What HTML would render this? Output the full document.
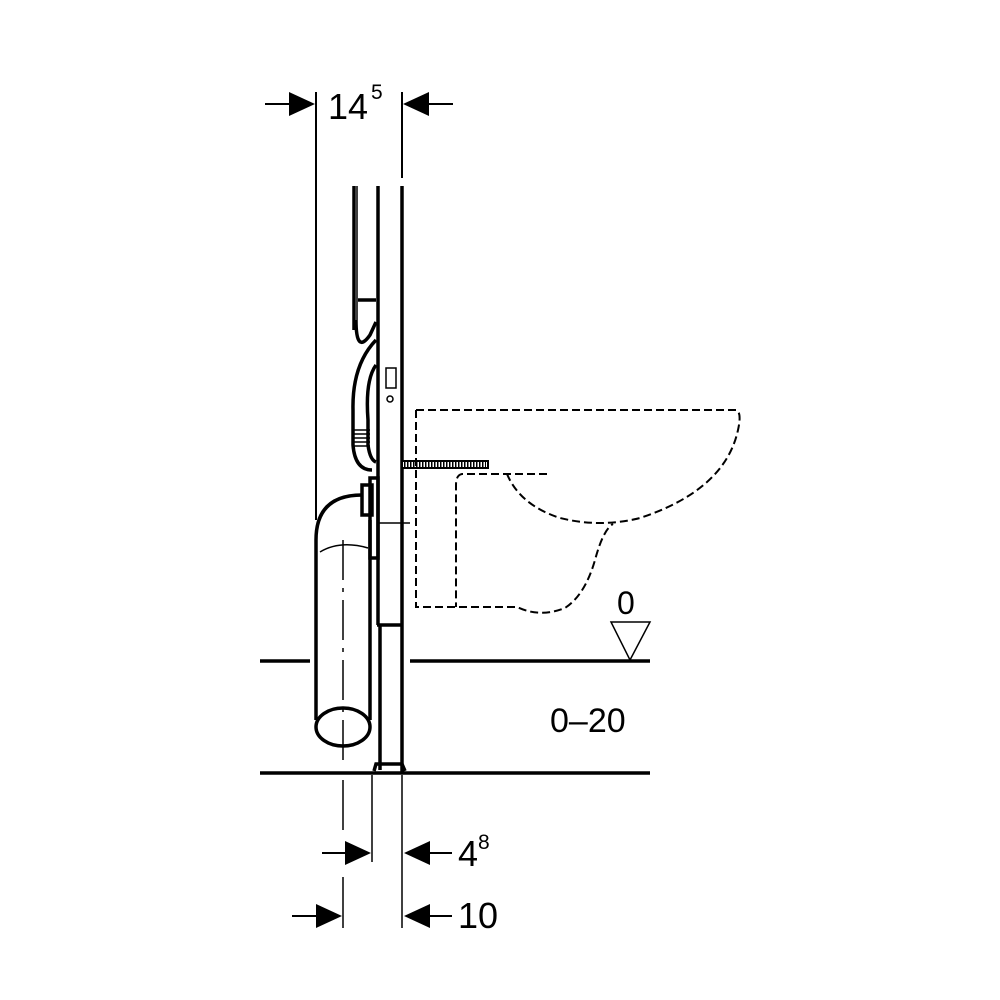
<!DOCTYPE html>
<html><head><style>body{margin:0;background:#fff}svg{display:block}</style></head><body>
<svg width="1000" height="1000" viewBox="0 0 1000 1000" xmlns="http://www.w3.org/2000/svg" font-family="Liberation Sans, sans-serif">
<g stroke="#000" fill="none" stroke-width="2">
<line x1="316" y1="92" x2="316" y2="520"/>
<line x1="402" y1="92" x2="402" y2="178"/>
<line x1="265" y1="104" x2="290" y2="104"/>
<line x1="428" y1="104" x2="453" y2="104"/>
</g>
<polygon points="315,104 289,92 289,116" fill="#000"/>
<polygon points="403,104 429,92 429,116" fill="#000"/>
<text x="328" y="119" font-size="36">14</text>
<text x="371" y="99" font-size="21">5</text>

<g stroke="#000" fill="none" stroke-width="3.5">
<line x1="378" y1="186" x2="378" y2="625"/>
<line x1="402" y1="186" x2="402" y2="772"/>
<line x1="377" y1="625" x2="402" y2="625"/>
<line x1="380" y1="625" x2="380" y2="770"/>
<line x1="354" y1="186" x2="354" y2="330"/>
<path d="M358 300 L376 300"/>
<path d="M356 320 Q356 355 370 335 L376 322"/>
<path d="M376 340 Q352 365 353 410 L353 445 Q355 470 372 470"/>
<path d="M376 365 Q365 380 368 420 L368 445 Q370 460 376 462"/>
<rect x="370" y="478" width="8" height="80"/>
<rect x="362" y="485" width="10" height="30"/>
<path d="M316 720 L316 540 Q316 495 362 495"/>
<line x1="370" y1="520" x2="370" y2="720"/>
<ellipse cx="343" cy="727" rx="27" ry="19"/>
<line x1="260" y1="661" x2="310" y2="661"/>
<line x1="410" y1="661" x2="650" y2="661"/>
<line x1="260" y1="773" x2="650" y2="773"/>
<path d="M374 771 L376 764 L402 764 L405 771"/>
</g>
<g stroke="#000" stroke-width="1.5" fill="none">
<line x1="357" y1="186" x2="357" y2="320"/>
<path d="M354 434h16M354 438h16M354 442h16M354 446h16M354 430h16"/>
<rect x="386" y="368" width="10" height="20"/>
<circle cx="390" cy="399" r="3"/>
<line x1="378" y1="523" x2="410" y2="523"/>
<path d="M320 552 Q340 540 368 548"/>
<line x1="343" y1="540" x2="343" y2="760" stroke-dasharray="40,8,4,8"/>
<line x1="372" y1="775" x2="372" y2="862"/>
<line x1="402" y1="775" x2="402" y2="928"/>
<line x1="343" y1="780" x2="343" y2="830"/>
<line x1="343" y1="877" x2="343" y2="928"/>
</g>
<rect x="402" y="461" width="86" height="7" fill="#fff" stroke="#000" stroke-width="2"/>
<line x1="404" y1="464.5" x2="486" y2="464.5" stroke="#000" stroke-width="5" stroke-dasharray="1.5,1.5"/>
<g stroke="#000" stroke-width="2" fill="none" stroke-dasharray="8,4">
<path d="M416 410 L736 410 Q742 412 738 430 Q725 490 640 518 Q600 528 560 518 Q520 505 507 474"/>
<path d="M416 410 L416 607 L517 607 Q540 618 565 608 Q585 595 595 560 Q603 530 613 524"/>
<path d="M547 474 L462 474 Q456 475 456 485 L456 607"/>
</g>
<text x="617" y="614" font-size="32">0</text>
<polygon points="611,622 650,622 630,660" fill="none" stroke="#000" stroke-width="1.5"/>
<text x="550" y="732" font-size="34">0–20</text>
<g stroke="#000" stroke-width="2">
<line x1="322" y1="853" x2="348" y2="853"/>
<line x1="428" y1="853" x2="452" y2="853"/>
<line x1="292" y1="916" x2="318" y2="916"/>
<line x1="428" y1="916" x2="452" y2="916"/>
</g>
<polygon points="371,853 345,841 345,865" fill="#000"/>
<polygon points="404,853 430,841 430,865" fill="#000"/>
<polygon points="342,916 316,904 316,928" fill="#000"/>
<polygon points="404,916 430,904 430,928" fill="#000"/>
<text x="458" y="866" font-size="36">4</text>
<text x="478" y="849" font-size="21">8</text>
<text x="458" y="928" font-size="36">10</text>
</svg>
</body></html>
